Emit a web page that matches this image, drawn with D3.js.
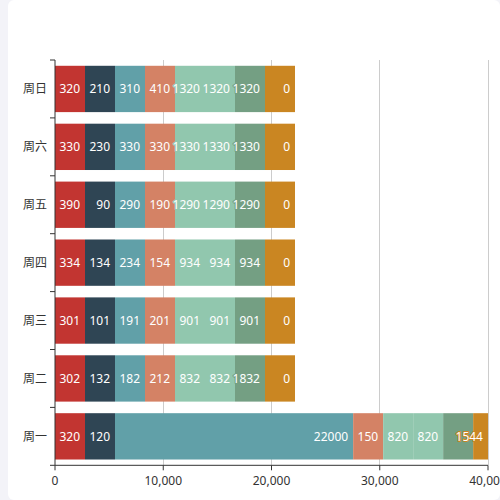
<!DOCTYPE html>
<html><head><meta charset="utf-8">
<script src="https://cdn.jsdelivr.net/npm/d3@7/dist/d3.min.js"></script>
<style>
html,body{margin:0;padding:0;background:#f3f3f8;width:500px;height:500px;overflow:hidden;}
#card{position:absolute;left:8px;top:0;width:492px;height:500px;background:#fff;border-radius:6px;}
svg{position:absolute;left:0;top:0;}
</style></head>
<body><div id="card"></div><svg id="chart" width="500" height="500"></svg>
<script>
const categories = ['周一','周二','周三','周四','周五','周六','周日'];
const series1 = [320, 302, 301, 334, 390, 330, 320];
const series2 = [120, 132, 101, 134, 90, 230, 210];
const series3 = [22000, 182, 191, 234, 290, 330, 310];
const series4 = [150, 212, 201, 154, 190, 330, 410];
const series5 = [820, 832, 901, 934, 1290, 1330, 1320];
const series6 = [820, 832, 901, 934, 1290, 1330, 1320];
const series7 = [820, 1832, 901, 934, 1290, 1330, 1320];
const series8 = [1544, 0, 0, 0, 0, 0, 0];
const colors = ['#c23531','#2f4554','#61a0a8','#d48265','#91c7ae','#91c7ae','#749f83','#ca8622'];
const xTicks = [0, 10000, 20000, 30000, 40000];

const allSeries = [series1,series2,series3,series4,series5,series6,series7,series8];
const gLeft = 55, gRight = 488, gTop = 60, gBottom = 465.3;
const minLen = 30;
const font = '"Microsoft YaHei","Noto Sans","Noto Sans CJK SC",sans-serif';

const svg = d3.select('#chart');
const x = d3.scaleLinear().domain([0, 40000]).range([gLeft, gRight]);
const y = d3.scaleBand().domain(categories.slice().reverse()).range([gTop, gBottom])
  .paddingInner(0.2).paddingOuter(0.1);

// grid lines
svg.append('g').selectAll('line').data(xTicks.filter(d => d > 0)).join('line')
  .attr('x1', d => x(d)).attr('x2', d => x(d)).attr('y1', gTop).attr('y2', gBottom)
  .attr('stroke', '#ccc').attr('stroke-width', 1).attr('shape-rendering','crispEdges');

svg.append('defs').append('clipPath').attr('id','clip').append('rect')
  .attr('x', gLeft).attr('y', gTop - 10).attr('width', gRight - gLeft).attr('height', gBottom - gTop + 20);

// compute stacked segments with min bar length (pixel space)
const segs = [];
categories.forEach((c, ci) => {
  let pos = x(0);
  allSeries.forEach((s, si) => {
    const v = s[ci];
    const len = Math.max(x(v) - x(0), minLen);
    segs.push({c, ci, si, v, x0: pos, x1: pos + len});
    pos += len;
  });
});

const barsG = svg.append('g').attr('clip-path','url(#clip)');
barsG.selectAll('rect').data(segs).join('rect')
  .attr('x', d => d.x0).attr('width', d => d.x1 - d.x0)
  .attr('y', d => y(d.c)).attr('height', y.bandwidth())
  .attr('fill', d => colors[d.si]);

// labels (insideRight), later series take priority; hide overlapping ones
const labG = svg.append('g');
const placed = [];
const ordered = segs.slice().sort((a,b) => b.si - a.si);
const labelNodes = [];
ordered.forEach(d => {
  const xe = Math.min(d.x1, gRight) - 5;
  const t = labG.append('text')
    .attr('x', xe).attr('y', y(d.c) + y.bandwidth()/2)
    .attr('text-anchor','end').attr('dominant-baseline','central')
    .attr('font-family', font).attr('font-size', 12)
    .attr('fill', '#fff').attr('stroke', colors[d.si]).attr('stroke-width', 2)
    .attr('paint-order','stroke').attr('stroke-linejoin','round')
    .text(d.v);
  const w = t.node().getComputedTextLength();
  const box = {x0: xe - w, x1: xe, ci: d.ci};
  const hit = placed.some(p => p.ci === box.ci && Math.min(p.x1, box.x1) - Math.max(p.x0, box.x0) > 3);
  if (hit) t.remove(); else { placed.push(box); labelNodes.push(t.node()); }
});
labelNodes.reverse().forEach(n => labG.node().appendChild(n));

// x axis
const xAxis = svg.append('g');
xAxis.append('line').attr('x1', gLeft).attr('x2', gRight).attr('y1', gBottom).attr('y2', gBottom)
  .attr('stroke','#333').attr('stroke-width',1);
xAxis.selectAll('line.tick').data(xTicks).join('line').attr('class','tick')
  .attr('x1', d => x(d)).attr('x2', d => x(d)).attr('y1', gBottom).attr('y2', gBottom + 5)
  .attr('stroke','#333');
xAxis.selectAll('text').data(xTicks).join('text')
  .attr('x', d => x(d)).attr('y', gBottom + 9).attr('dominant-baseline','hanging')
  .attr('text-anchor','middle').attr('font-family', font).attr('font-size', 12)
  .attr('fill','#333').text(d => d3.format(',')(d));

// y axis
const yAxis = svg.append('g');
yAxis.append('line').attr('x1', gLeft).attr('x2', gLeft).attr('y1', gTop).attr('y2', gBottom)
  .attr('stroke','#333');
const bounds = d3.range(categories.length + 1).map(i => gTop + i * y.step());
yAxis.selectAll('line.tick').data(bounds).join('line').attr('class','tick')
  .attr('x1', gLeft - 5).attr('x2', gLeft).attr('y1', d => d).attr('y2', d => d)
  .attr('stroke','#333');
yAxis.selectAll('text').data(categories).join('text')
  .attr('x', gLeft - 8).attr('y', d => y(d) + y.bandwidth()/2)
  .attr('text-anchor','end').attr('dominant-baseline','central')
  .attr('font-family', font).attr('font-size', 12).attr('fill','#333').text(d => d);
</script></body></html>
